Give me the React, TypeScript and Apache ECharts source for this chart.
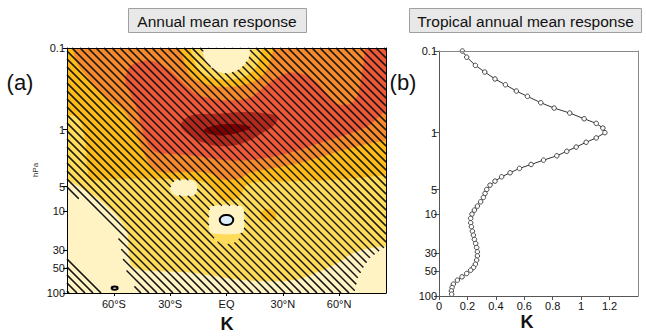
import React, { useEffect, useRef } from 'react';
import * as echarts from 'echarts';

// ---------- axis ticks ----------
const latTicks = [-60, -30, 0, 30, 60];
const latTickLabels = ['60°S', '30°S', 'EQ', '30°N', '60°N'];
const pressureTicks = [0.1, 1, 5, 10, 30, 50, 100];
const kTicks = [0, 0.2, 0.4, 0.6, 0.8, 1, 1.2];

// ---------- panel (b): tropical annual mean profile ----------
const profilePressure = [0.1, 0.119, 0.15, 0.181, 0.22, 0.259, 0.309, 0.359, 0.43, 0.5, 0.575, 0.676, 0.769, 0.879, 1.0, 1.16, 1.31, 1.5, 1.69, 1.92, 2.17, 2.45, 2.74, 3.1, 3.47, 3.92, 4.39, 4.96, 5.55, 6.21, 7.03, 7.93, 8.88, 9.94, 11.2, 12.7, 14.2, 16.1, 18.0, 20.3, 22.8, 25.5, 28.8, 32.3, 36.4, 40.8, 44.8, 48.3, 53.0, 58.3, 64.0, 71.6, 78.7, 86.6, 95];
const profileK = [0.164, 0.195, 0.256, 0.322, 0.394, 0.467, 0.544, 0.622, 0.716, 0.81, 0.92, 1.021, 1.106, 1.153, 1.167, 1.106, 1.035, 0.965, 0.899, 0.829, 0.735, 0.648, 0.566, 0.5, 0.441, 0.394, 0.359, 0.336, 0.324, 0.312, 0.293, 0.27, 0.249, 0.232, 0.223, 0.223, 0.228, 0.235, 0.242, 0.249, 0.258, 0.265, 0.27, 0.27, 0.265, 0.256, 0.242, 0.223, 0.195, 0.162, 0.129, 0.101, 0.092, 0.087, 0.089];

// ---------- panel (a): contour outlines [latitude, hPa] ----------
const frameOutline = [[-95, 0.07], [95, 0.07], [95, 140], [-95, 140]];
const contour02 = [[-95, 0.07], [95, 0.07], [95, 26], [84, 27], [77, 28], [70, 31], [66, 34], [60, 42], [55, 48], [45, 60], [35, 70], [20, 72], [5, 68], [-5, 63], [-20, 56], [-35, 54], [-44, 53], [-48, 50], [-51, 44], [-52, 32], [-53, 18], [-57, 12.5], [-63, 9], [-69, 6.8], [-77, 5.2], [-84, 4.3], [-95, 3.8]];
const contour04 = [[-95, 0.07], [95, 0.07], [95, 3.5], [85, 3.6], [70, 3.9], [50, 4.2], [30, 4.3], [15, 4.4], [10, 4.9], [8, 6.2], [4, 7.2], [-2, 7.3], [-5, 6.3], [-8, 5], [-12, 4.4], [-20, 4.1], [-40, 4.0], [-60, 4.0], [-72, 4.1], [-74, 3.2], [-75, 1.6], [-77, 0.9], [-80, 0.7], [-85, 0.65], [-95, 0.6]];
const contour06 = [[-83, 0.07], [95, 0.07], [95, 1.32], [85, 1.36], [70, 1.6], [55, 2.0], [38, 2.6], [20, 3.1], [12, 3.4], [8, 3.9], [2, 4.1], [-4, 4.0], [-8, 3.5], [-14, 3.3], [-35, 3.3], [-40, 2.8], [-43, 2.2], [-46, 1.5], [-49, 0.98], [-55, 0.58], [-62, 0.44], [-69, 0.33], [-74, 0.23], [-79.5, 0.157], [-82, 0.1]];
const contour08 = [[-53.7, 0.22], [-51, 0.165], [-44, 0.143], [-37, 0.15], [-30, 0.19], [-22.6, 0.275], [-15.6, 0.37], [-6.7, 0.42], [2.2, 0.44], [13, 0.4], [20, 0.3], [27, 0.23], [34, 0.2], [41, 0.21], [48, 0.26], [53.7, 0.37], [59, 0.48], [66, 0.48], [70, 0.37], [72.4, 0.19], [74, 0.1], [75, 0.07], [95, 0.07], [95, 0.58], [85, 0.6], [77, 0.85], [70, 1.03], [59, 1.25], [48, 1.5], [37.7, 1.8], [27, 2.1], [16.4, 2.3], [5.8, 2.4], [-5, 2.3], [-15.6, 2.1], [-26, 2.0], [-37, 1.9], [-42, 1.5], [-45, 0.98], [-47.5, 0.58], [-51, 0.37], [-53.7, 0.27]];
const contour10 = [[-24.4, 0.85], [-19, 0.67], [-6.7, 0.64], [7.6, 0.61], [20, 0.63], [27, 0.7], [26, 0.85], [20, 1.07], [9.3, 1.45], [-1.3, 1.6], [-12, 1.45], [-19, 1.2], [-23.5, 0.98]];
const contour12 = [[-12, 1.02], [-6.7, 0.89], [2.2, 0.85], [10.2, 0.88], [13, 0.94], [7.6, 1.07], [-1.3, 1.17], [-8.4, 1.14]];
const goldSpot = [[18, 11], [20, 9.6], [24, 9.5], [26.5, 11], [25, 12.8], [21, 13.2]];
const topRing04 = [[-24, 0.07], [24, 0.07], [23, 0.15], [18, 0.23], [10, 0.28], [0, 0.3], [-10, 0.28], [-18, 0.23], [-22, 0.16]];
const topRing02 = [[-18, 0.07], [18, 0.07], [17, 0.15], [12, 0.21], [5, 0.24], [0, 0.245], [-5, 0.24], [-12, 0.21], [-17, 0.15]];
const topHole = [[-12.5, 0.07], [12.5, 0.07], [12, 0.13], [8, 0.175], [4, 0.195], [0, 0.205], [-4, 0.195], [-8, 0.175], [-12, 0.13]];
const southSpot = [[-30, 5.2], [-28, 4.3], [-22.5, 4.1], [-17, 4.3], [-15.5, 5.2], [-17, 6.3], [-22.5, 6.5], [-28, 6.2]];
const eqPatch = [[-6.5, 15], [7, 15], [6.5, 22], [3, 25], [-3, 25], [-6.5, 22]];
const eqSpot = [[-8, 8.6], [8, 8.6], [9.3, 10], [9.3, 16.5], [8, 18.5], [-8, 18.5], [-9.3, 16.5], [-9.3, 10]];
const eqUnhatched = [[-8, 8.6], [8, 8.6], [9.3, 10], [9.3, 16.5], [7, 19], [6.5, 22], [3, 25], [-3, 25], [-6.5, 22], [-7, 19], [-9.3, 16.5], [-9.3, 10]];
const eqNegative = [[-3.6, 12.8], [-2.5, 11.5], [0, 11.1], [2.5, 11.5], [3.6, 12.8], [2.5, 14.2], [0, 14.7], [-2.5, 14.2]];
const southNegative = [[-61.2, 87], [-59.6, 83.5], [-58, 87], [-59.6, 91]];
// significance hatching (inside the frame: lat ±85, 0.1–100 hPa)
const hatchMain = [[-85, 0.1], [85, 0.1], [85, 27], [80, 32], [76, 38], [73, 48], [70, 65], [68, 100], [-48, 100], [-50, 70], [-53, 55], [-55, 40], [-56, 30], [-57, 23], [-59, 18], [-62, 14], [-65, 12], [-68, 10], [-72, 8.5], [-76, 7.5], [-80, 6.8], [-85, 6.2]];
const hatchCorner = [[-85, 35], [-80, 45], [-75, 60], [-70, 80], [-65, 100], [-85, 100]];

const colCream = '#fff3c4';
const colYellow = '#fedc5a';
const colGold = '#fcbb16';
const colOrange = '#f6892c';
const colRed = '#ee5738';
const colDarkRed = '#b5281c';
const colDarkest = '#800000';
const colNegative = '#deeefa';

const HATCH_STEP = 8;

// even-odd scan of 45° lines (x - y = c) through a set of pixel rings
function hatchSegments(rings: number[][][]) {
  const edges: number[][][] = [];
  rings.forEach((pts) => pts.forEach((p, i) => edges.push([p, pts[(i + 1) % pts.length]])));
  const ds = rings.flat().map((p) => p[0] - p[1]);
  const cmin = Math.min(...ds);
  const cmax = Math.max(...ds);
  const segs: number[][] = [];
  for (let c = Math.ceil(cmin / HATCH_STEP) * HATCH_STEP; c <= cmax; c += HATCH_STEP) {
    const xs: number[] = [];
    edges.forEach(([a, b]) => {
      const fa = a[0] - a[1] - c;
      const fb = b[0] - b[1] - c;
      if ((fa > 0) !== (fb > 0)) {
        const t = fa / (fa - fb);
        xs.push(a[0] + t * (b[0] - a[0]));
      }
    });
    xs.sort((m, n) => m - n);
    for (let k = 0; k + 1 < xs.length; k += 2) segs.push([xs[k], xs[k] - c, xs[k + 1], xs[k + 1] - c]);
  }
  return segs;
}

export default function App() {
  const ref = useRef<HTMLDivElement>(null);
  useEffect(() => {
    if (!ref.current) return;

    const fills: any[] = [
      { pts: frameOutline, fill: colCream, smooth: 0 },
      { pts: contour02, fill: colYellow, smooth: 0.35 },
      { pts: contour04, fill: colGold, smooth: 0.35 },
      { pts: contour06, fill: colOrange, smooth: 0.35 },
      { pts: contour08, fill: colRed, smooth: 0.35 },
      { pts: contour10, fill: colDarkRed, smooth: 0.4 },
      { pts: contour12, fill: colDarkest, smooth: 0.4 },
      { pts: goldSpot, fill: colGold, smooth: 0.5 },
      { pts: topRing04, fill: colGold, smooth: 0.35 },
      { pts: topRing02, fill: colYellow, smooth: 0.35 },
    ];
    const overlays: any[] = [
      { pts: topHole, fill: colCream, smooth: 0.35 },
      { pts: southSpot, fill: colCream, smooth: 0.5 },
      { pts: eqPatch, fill: colYellow, smooth: 0.5 },
      { pts: eqSpot, fill: colCream, smooth: 0.4 },
      { pts: eqNegative, fill: colNegative, smooth: 0.5, stroke: '#000', lw: 2 },
      { pts: southNegative, fill: '#ffffff', smooth: 0.5, stroke: '#000', lw: 2 },
    ];

    const chart = echarts.init(ref.current, null, { renderer: 'svg' });
    const font = 'Liberation Sans';
    const logTicks = pressureTicks.map((p) => Math.log10(p));
    const pLabel = (v: number) => {
      const p = Math.pow(10, v);
      return p < 0.5 ? '0.1' : String(Math.round(p));
    };
    const frameAxis = (gridIndex: number, position: string, color: string) => ({
      gridIndex, type: 'value', position, z: 5,
      axisLine: { show: true, onZero: false, lineStyle: { color, width: 1 } },
      axisTick: { show: false }, axisLabel: { show: false }, splitLine: { show: false },
    });
    const toPx = (api: any, pts: number[][]) => pts.map((d) => api.coord([d[0], Math.log10(d[1])]));

    const polyRenderer = (list: any[]) => (params: any, api: any) => {
      const layer = list[params.dataIndex];
      return {
        type: 'polygon',
        shape: { points: toPx(api, layer.pts), smooth: layer.smooth },
        style: { fill: layer.fill, stroke: layer.stroke || null, lineWidth: layer.lw || 0 },
      };
    };

    const hatchRenderer = (params: any, api: any) => {
      const segs = hatchSegments([hatchMain, hatchCorner].map((r) => toPx(api, r)));
      return {
        type: 'group',
        children: segs.map((s) => ({ type: 'line', shape: { x1: s[0], y1: s[1], x2: s[2], y2: s[3] }, style: { stroke: '#161616', lineWidth: 1.1 } })),
      };
    };

    const baseGraphics: any[] = [
      { type: 'rect', shape: { x: 128.5, y: 8.5, width: 178, height: 24 }, style: { fill: '#e8e8e8', stroke: '#a0a0a0', lineWidth: 1 } },
      { type: 'text', x: 217, y: 21, style: { text: 'Annual mean response', font: `15.5px "${font}"`, fill: '#111', align: 'center', verticalAlign: 'middle' } },
      { type: 'rect', shape: { x: 409.5, y: 8.5, width: 232, height: 24 }, style: { fill: '#e8e8e8', stroke: '#a0a0a0', lineWidth: 1 } },
      { type: 'text', x: 525.5, y: 21, style: { text: 'Tropical annual mean response', font: `15.5px "${font}"`, fill: '#111', align: 'center', verticalAlign: 'middle' } },
      { type: 'text', x: 20, y: 82, style: { text: '(a)', font: `22px "${font}"`, fill: '#111', align: 'center', verticalAlign: 'middle' } },
      { type: 'text', x: 403, y: 82, style: { text: '(b)', font: `22px "${font}"`, fill: '#111', align: 'center', verticalAlign: 'middle' } },
      { type: 'text', x: 227, y: 324, style: { text: 'K', font: `bold 18px "${font}"`, fill: '#111', align: 'center', verticalAlign: 'middle' } },
      { type: 'text', x: 527, y: 322, style: { text: 'K', font: `bold 18px "${font}"`, fill: '#111', align: 'center', verticalAlign: 'middle' } },
      { type: 'text', x: 35, y: 170, rotation: Math.PI / 2, style: { text: 'hPa', font: `8px "${font}"`, fill: '#333', align: 'center', verticalAlign: 'middle' } },
    ];

    chart.setOption({
      animation: false,
      grid: [
        { left: 67, top: 48, width: 319, height: 245 },
        { left: 439, top: 51, width: 199, height: 245 },
      ],
      xAxis: [
        {
          gridIndex: 0, type: 'value', min: -85, max: 85, z: 5,
          axisLine: { show: true, onZero: false, lineStyle: { color: '#000' } },
          splitLine: { show: false },
          axisTick: { show: true, customValues: latTicks, length: 3, lineStyle: { color: '#000' } },
          axisLabel: {
            customValues: latTicks, fontSize: 11, fontFamily: font, color: '#111', margin: 5,
            formatter: (v: number) => {
              let best = 0;
              latTicks.forEach((t, i) => { if (Math.abs(t - v) < Math.abs(latTicks[best] - v)) best = i; });
              return latTickLabels[best];
            },
          },
        },
        { ...frameAxis(0, 'top', '#000'), min: -85, max: 85 },
        {
          gridIndex: 1, type: 'value', min: 0, max: 1.4, z: 5,
          axisLine: { show: true, onZero: false, lineStyle: { color: '#555' } },
          splitLine: { show: false },
          axisTick: { show: true, customValues: kTicks, length: 4, lineStyle: { color: '#555' } },
          axisLabel: {
            customValues: kTicks, fontSize: 11, fontFamily: font, color: '#111', margin: 4,
            formatter: (v: number) => String(Math.round(v * 10) / 10),
          },
        },
        { ...frameAxis(1, 'top', '#888'), min: 0, max: 1.4 },
      ],
      yAxis: [
        {
          gridIndex: 0, type: 'value', min: -1, max: 2, inverse: true, z: 5,
          axisLine: { show: true, onZero: false, lineStyle: { color: '#000' } },
          splitLine: { show: false },
          axisTick: { show: true, customValues: logTicks, length: 4, lineStyle: { color: '#000' } },
          axisLabel: { customValues: logTicks, fontSize: 11, fontFamily: font, color: '#111', margin: 2, formatter: pLabel },
        },
        { ...frameAxis(0, 'right', '#000'), min: -1, max: 2, inverse: true },
        {
          gridIndex: 1, type: 'value', min: -1, max: 2, inverse: true, z: 5,
          axisLine: { show: true, onZero: false, lineStyle: { color: '#555' } },
          splitLine: { show: false },
          axisTick: { show: true, customValues: logTicks, length: 5, lineStyle: { color: '#555' } },
          axisLabel: { customValues: logTicks, fontSize: 11, fontFamily: font, color: '#111', margin: 2, formatter: pLabel },
        },
        { ...frameAxis(1, 'right', '#888'), min: -1, max: 2, inverse: true },
      ],
      series: [
        {
          type: 'custom', xAxisIndex: 0, yAxisIndex: 0, clip: true, z: 1,
          data: fills.map(() => [0, 0]),
          renderItem: polyRenderer(fills),
        },
        {
          type: 'custom', xAxisIndex: 0, yAxisIndex: 0, clip: false, z: 2,
          data: [[0, 0]],
          renderItem: hatchRenderer,
        },
        {
          type: 'custom', xAxisIndex: 0, yAxisIndex: 0, clip: true, z: 3,
          data: overlays.map(() => [0, 0]),
          renderItem: polyRenderer(overlays),
        },
        {
          type: 'line',
          xAxisIndex: 2,
          yAxisIndex: 2,
          data: profileK.map((k, i) => [k, Math.log10(profilePressure[i])]),
          symbol: 'circle',
          symbolSize: 4.5,
          itemStyle: { color: '#fff', borderColor: '#333', borderWidth: 0.9 },
          lineStyle: { color: '#333', width: 1 },
        },
      ],
    });

    // second pass: hatch lines placed through the chart's own scale (convertToPixel),
    // excluding the unhatched spots (even-odd holes)
    let extra: any[] = [];
    try {
      const toPix = (pts: number[][]) => pts.map((d) => chart.convertToPixel({ seriesIndex: 0 }, [d[0], Math.log10(Math.max(d[1], 0.1))]) as number[]);
      const rings = [hatchMain, hatchCorner, topHole, southSpot, eqUnhatched].map(toPix);
      if (rings.every((r) => r.every((p) => p && isFinite(p[0]) && isFinite(p[1])))) {
        extra = hatchSegments(rings).map((s) => ({
          type: 'line', z: 4, silent: true,
          shape: { x1: s[0], y1: s[1], x2: s[2], y2: s[3] },
          style: { stroke: '#161616', lineWidth: 1.1 },
        }));
      }
    } catch (e) {
      extra = [];
    }
    chart.setOption({ graphic: [...baseGraphics, ...extra] });
    return () => chart.dispose();
  }, []);
  return <div ref={ref} style={{ position: 'fixed', left: 0, top: 0, width: 646, height: 336, background: '#fff' }} />;
}
